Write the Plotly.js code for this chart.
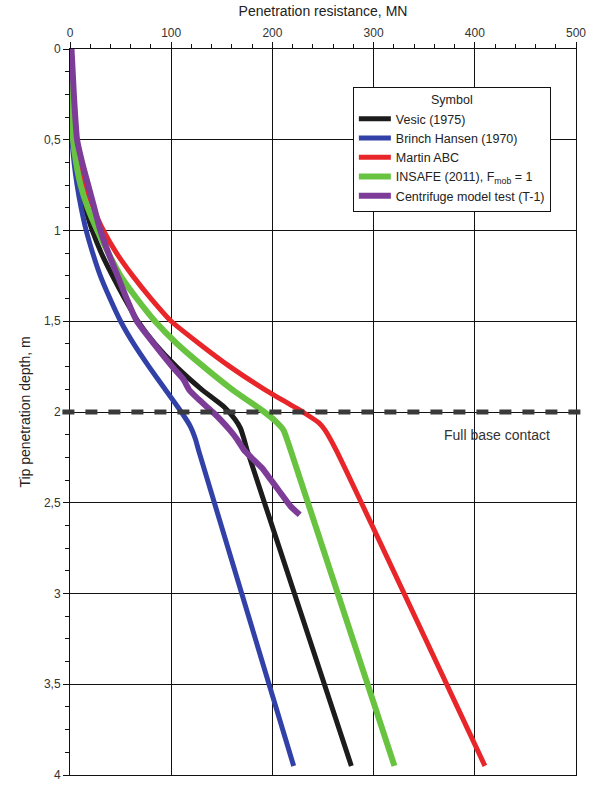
<!DOCTYPE html>
<html>
<head>
<meta charset="utf-8">
<script src="https://cdn.plot.ly/plotly-3.0.1.min.js"></script>
<style>html,body{margin:0;padding:0;background:#fff;}#chart{width:589px;height:789px;}</style>
</head>
<body>
<div id="chart"></div>
<script>
// Depth (m) and penetration resistance (MN) for each method
const vesicDepth = [0, 0.25, 0.5, 0.625, 0.75, 0.875, 1.0, 1.125, 1.25, 1.375, 1.5, 1.625, 1.75, 1.875, 1.97, 2.04, 2.09, 2.15, 2.21, 3.95];
const vesicRes   = [0, 0.6, 3, 5.5, 9, 15, 22, 31, 42, 54, 67, 84, 105, 130, 152, 163, 168.5, 172, 175, 278];

const brinchDepth = [0, 0.25, 0.5, 0.625, 0.75, 0.875, 1.0, 1.125, 1.25, 1.375, 1.5, 1.625, 1.75, 1.875, 2.0, 2.08, 2.15, 2.21, 3.95];
const brinchRes   = [0, 0.5, 2, 4, 7, 11, 16, 22.5, 30, 39.5, 50, 63, 78, 94, 110, 119, 124, 127, 221];

const martinDepth = [0, 0.25, 0.5, 0.625, 0.75, 0.875, 1.0, 1.125, 1.25, 1.375, 1.5, 1.625, 1.75, 1.875, 2.0, 2.06, 2.1, 2.21, 3.95];
const martinRes   = [0, 1, 5, 9, 15, 23, 33, 46, 62, 80, 100, 128, 158, 192, 230, 246, 252, 263, 410];

const insafeDepth = [0, 0.25, 0.5, 0.625, 0.75, 0.875, 1.0, 1.125, 1.25, 1.375, 1.5, 1.625, 1.75, 1.875, 2.0, 2.05, 2.1, 2.21, 3.95];
const insafeRes   = [0, 0.5, 3, 6, 10.5, 17.5, 27, 38, 50, 66, 84, 106, 132, 160, 192, 203, 211, 218, 320.6];

const centDepth = [0, 0.25, 0.5, 0.625, 0.75, 0.875, 1.0, 1.125, 1.25, 1.375, 1.5, 1.625, 1.75, 1.82, 1.88, 1.93, 2.0, 2.05, 2.1, 2.15, 2.21, 2.25, 2.31, 2.37, 2.43, 2.52, 2.566];
const centRes   = [1.5, 3.8, 7, 12, 18, 24, 30, 38, 47, 56, 66, 83, 101, 112, 118, 127, 141, 150, 158, 165, 172, 179, 190, 198, 206, 218, 227];

const seriesNames = ['Vesic (1975)', 'Brinch Hansen (1970)', 'Martin ABC', 'INSAFE (2011), F<sub>mob</sub> = 1', 'Centrifuge model test (T-1)'];
const seriesColors = ['#1c1c1c', '#3141a8', '#e8262a', '#68c440', '#7d3c98'];

const yTickVals = [0, 0.5, 1, 1.5, 2, 2.5, 3, 3.5, 4];
const yTickText = ['0', '0,5', '1', '1,5', '2', '2,5', '3', '3,5', '4'];
const xTickVals = [0, 100, 200, 300, 400, 500];

const contactDepth = 2;
const contactLabel = 'Full base contact';

const xs = [vesicRes, brinchRes, martinRes, insafeRes, centRes];
const ys = [vesicDepth, brinchDepth, martinDepth, insafeDepth, centDepth];
const widths = [5, 5, 5, 6, 6];

const traces = xs.map((x, i) => ({
  x: x, y: ys[i], type: 'scatter', mode: 'lines',
  name: seriesNames[i],
  line: {color: seriesColors[i], width: widths[i], shape: 'spline', smoothing: 0.5},
  hoverinfo: 'skip'
}));

const fontFam = 'Arial, "Liberation Sans", sans-serif';

const layout = {
  width: 589, height: 789,
  margin: {l: 70, r: 13, t: 49, b: 14},
  paper_bgcolor: '#fff', plot_bgcolor: '#fff',
  font: {family: fontFam, color: '#333', size: 12},
  showlegend: true,
  legend: {
    x: 0.559, y: 0.948, xanchor: 'left', yanchor: 'top',
    bgcolor: '#fff', bordercolor: '#111', borderwidth: 1,
    font: {family: fontFam, size: 12.5, color: '#222'},
    title: {text: 'Symbol', side: 'top center', font: {family: fontFam, size: 12.5, color: '#222'}},
    itemwidth: 32, tracegroupgap: 0
  },
  xaxis: {
    side: 'top', range: [0, 500], tickvals: xTickVals,
    showgrid: true, gridcolor: '#111', gridwidth: 1,
    zeroline: false, showline: true, linecolor: '#111', linewidth: 1, mirror: true,
    ticks: 'outside', ticklen: 6, tickcolor: '#111',
    minor: {dtick: 20, ticks: 'outside', ticklen: 4, tickcolor: '#111', showgrid: false},
    tickfont: {family: fontFam, size: 12, color: '#333'},
    title: {text: 'Penetration resistance, MN', font: {family: fontFam, size: 14, color: '#222'}, standoff: 6}
  },
  yaxis: {
    range: [4, 0], tickvals: yTickVals, ticktext: yTickText,
    showgrid: true, gridcolor: '#111', gridwidth: 1,
    zeroline: false, showline: true, linecolor: '#111', linewidth: 1, mirror: true,
    ticks: 'outside', ticklen: 6, tickcolor: '#111',
    minor: {dtick: 0.125, ticks: 'outside', ticklen: 4, tickcolor: '#111', showgrid: false},
    tickfont: {family: fontFam, size: 12, color: '#333'},
    title: {text: 'Tip penetration depth, m', font: {family: fontFam, size: 14, color: '#222'}, standoff: 10}
  },
  shapes: [{
    type: 'line', xref: 'paper', yref: 'y',
    x0: -0.015, x1: 1.025, y0: contactDepth, y1: contactDepth,
    line: {color: '#3a3a3a', width: 5, dash: '12px,11px'},
    layer: 'above'
  }],
  annotations: [{
    x: 422, y: 2.125, xref: 'x', yref: 'y', text: contactLabel, showarrow: false,
    font: {family: fontFam, size: 14, color: '#333'}
  }]
};

Plotly.newPlot('chart', traces, layout, {displayModeBar: false, staticPlot: true});
</script>
</body>
</html>
